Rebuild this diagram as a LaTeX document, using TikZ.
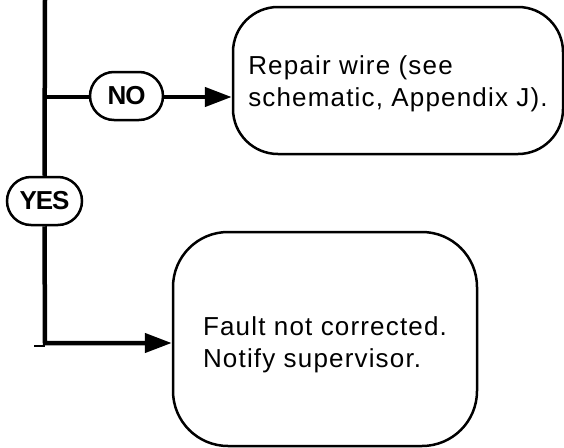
\documentclass[tikz,border=0pt]{standalone}
\usepackage{fontspec}
\setmainfont{Liberation Sans}[LetterSpace=4.5]
\newfontfamily\lblfont{Liberation Sans}[LetterSpace=-4]
\usetikzlibrary{arrows.meta,shapes.misc,backgrounds}
\begin{document}
\begin{tikzpicture}[x=1pt,y=-1pt,
  flowline/.style={line width=4.5pt},
  stubline/.style={line width=1.2pt},
  tipline/.style={flowline,line join=miter,-{Triangle[length=27pt,width=19pt]}},
  endbox/.style={draw,line width=2.5pt,fill=white,inner sep=0pt},
  boxtext/.style={align=left,inner sep=0pt,font=\fontsize{26}{32}\selectfont},
  tag/.style={draw,line width=2.5pt,fill=white,rounded rectangle,inner sep=0pt,
    minimum height=48pt,font=\lblfont\bfseries\fontsize{26}{30}\selectfont}]
\useasboundingbox (0,0) rectangle (564,447);
% boxes
\node[endbox,rounded corners=45pt,minimum width=330pt,minimum height=147pt] (repair) at (398,80.5) {};
\node[boxtext] (repairtext) at ([yshift=-3pt]repair.center) {Repair wire (see\\schematic, Appendix J).};
\node[endbox,rounded corners=55pt,minimum width=304pt,minimum height=214pt] (fault) at (325,339) {};
\node[boxtext] (faulttext) at ([yshift=-6pt]fault.center) {Fault not corrected.\\Notify supervisor.};
% tags
\node[tag,minimum width=73pt] (no) at (126.5,96) {NO};
\node[tag,minimum width=75pt] (yes) at (44.5,201) {YES};
% coordinates
\coordinate (top) at (45,0);
\coordinate (jn) at (45,97);
\coordinate (corner) at (45,343);
\coordinate (stubl) at (34,346);
\coordinate (stubr) at (45,346);
% connectors
\begin{scope}[on background layer]
\draw[flowline] (top) -- (yes.north);
\draw[flowline] (jn) -- (jn -| no.west);
\draw[tipline] (jn -| no.east) -- (jn -| repair.west);
\draw[tipline] (yes.south) -- (corner) -- (corner -| fault.west);
\draw[stubline] (stubl) -- (stubr);
\end{scope}
\end{tikzpicture}
\end{document}
